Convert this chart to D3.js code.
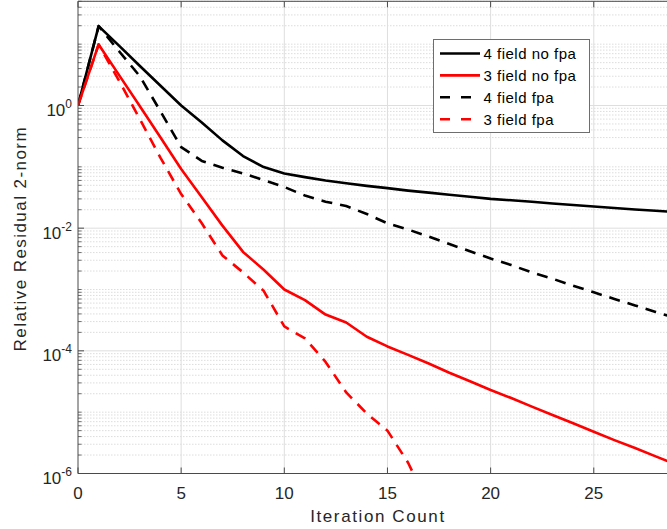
<!DOCTYPE html>
<html>
<head>
<meta charset="utf-8">
<script src="https://cdn.jsdelivr.net/npm/d3@7"></script>
<style>
  body { margin: 0; background: #fff; }
  svg { display: block; }
  text { font-family: "Liberation Sans", Arial, Helvetica, sans-serif; fill: #262626; }
</style>
</head>
<body>
<svg id="chart" width="667" height="529"></svg>
<script>
// iteration count (x axis)
const iterations = [0, 1, 2, 3, 4, 5, 6, 7, 8, 9, 10, 11, 12, 13, 14, 15, 16, 17, 18, 19, 20, 21, 22, 23, 24, 25, 26, 27, 28, 29];

// relative residual 2-norm
const fourFieldNoFpa = [1, 19.7, 9.4, 4.4, 2.1, 1.0, 0.53, 0.27, 0.15, 0.099, 0.078, 0.068, 0.060, 0.054, 0.049,
    0.045, 0.041, 0.038, 0.035, 0.0325, 0.030, 0.0285, 0.027, 0.0253, 0.0238, 0.0225, 0.0213, 0.0202, 0.0192, 0.0183];
const threeFieldNoFpa = [1, 9.9, 3.1, 0.97, 0.30, 0.092, 0.032, 0.011, 0.0041, 0.0021, 0.001, 0.00067, 0.00039, 0.00029, 0.00017,
    0.000118, 0.000086, 0.000062, 0.000044, 0.000032, 0.000023, 0.000017, 0.0000123, 0.000009, 0.0000066, 0.0000048,
    0.0000035, 0.0000026, 0.0000019, 0.0000014];
const fourFieldFpa = [1, 19.7, 7.6, 3.0, 0.8, 0.21, 0.125, 0.097, 0.078, 0.061, 0.047, 0.034, 0.027, 0.023, 0.017,
    0.012, 0.0095, 0.0073, 0.0055, 0.0042, 0.0032, 0.0025, 0.0019, 0.0015, 0.00115, 0.0009, 0.0007, 0.00055, 0.00043, 0.00034];
const threeFieldFpa = [1, 9.9, 2.5, 0.6, 0.14, 0.036, 0.012, 0.0036, 0.0019, 0.00095, 0.00025, 0.00016, 0.000066, 0.000021,
    0.0000095, 0.000005, 0.0000015, 0.0000003];

const seriesNames = ["4 field no fpa", "3 field no fpa", "4 field fpa", "3 field fpa"];
const seriesValues = [fourFieldNoFpa, threeFieldNoFpa, fourFieldFpa, threeFieldFpa];
const seriesColors = ["#000000", "#ff0000", "#000000", "#ff0000"];
const seriesDashed = [false, false, true, true];

const xTicks = [0, 5, 10, 15, 20, 25];
const yTickExponents = [0, -2, -4, -6];

const svg = d3.select("#chart");

// plot box (right side runs past the picture edge)
const plotLeft = 78, plotRight = 676.3, plotTop = 1.3, plotBottom = 473.5;

const x = d3.scaleLinear().domain([0, 29]).range([plotLeft, plotRight]);
const y = d3.scaleLog().domain([1e-6, 50]).range([plotBottom, plotTop]);

const isDecade = v => Math.abs(Math.log10(v) - Math.round(Math.log10(v))) < 1e-9;
const isMajor = v => isDecade(v) && yTickExponents.includes(Math.round(Math.log10(v)));

const allYTicks = y.ticks().filter(v => v >= 1e-6 && v <= 50);
const minorY = allYTicks.filter(v => !isMajor(v));
const majorY = allYTicks.filter(v => isMajor(v));

// grid
const grid = svg.append("g");
grid.selectAll(".minor")
    .data(minorY)
    .enter()
    .append("line")
    .attr("x1", plotLeft).attr("x2", plotRight)
    .attr("y1", d => y(d)).attr("y2", d => y(d))
    .style("stroke", "#d4d4d4")
    .style("stroke-width", 0.8)
    .style("stroke-dasharray", "1.5,1.5");

grid.selectAll(".majorY")
    .data(majorY)
    .enter()
    .append("line")
    .attr("x1", plotLeft).attr("x2", plotRight)
    .attr("y1", d => y(d)).attr("y2", d => y(d))
    .style("stroke", "#dedede")
    .style("stroke-width", 1);

grid.selectAll(".majorX")
    .data(xTicks.filter(d => d > 0))
    .enter()
    .append("line")
    .attr("x1", d => x(d)).attr("x2", d => x(d))
    .attr("y1", plotTop).attr("y2", plotBottom)
    .style("stroke", "#dedede")
    .style("stroke-width", 1);

// data lines
svg.append("clipPath").attr("id", "plotClip")
    .append("rect")
    .attr("x", plotLeft).attr("y", plotTop)
    .attr("width", plotRight - plotLeft).attr("height", plotBottom - plotTop);

const line = d3.line()
    .x((d, i) => x(iterations[i]))
    .y(d => y(d));

svg.append("g")
    .attr("clip-path", "url(#plotClip)")
    .selectAll("path")
    .data(seriesValues)
    .enter()
    .append("path")
    .attr("d", d => line(d))
    .style("fill", "none")
    .style("stroke", (d, i) => seriesColors[i])
    .style("stroke-width", 2.6)
    .style("stroke-linejoin", "round")
    .style("stroke-dasharray", (d, i) => seriesDashed[i] ? "11,8" : null);

// axes box and ticks
const axisColor = "#4a4a4a";
const axes = svg.append("g");
axes.append("line").attr("x1", plotLeft).attr("x2", plotLeft).attr("y1", plotTop).attr("y2", plotBottom)
    .style("stroke", axisColor).style("stroke-width", 1);
axes.append("line").attr("x1", plotLeft).attr("x2", plotRight).attr("y1", plotBottom).attr("y2", plotBottom)
    .style("stroke", axisColor).style("stroke-width", 1);
axes.append("line").attr("x1", plotLeft).attr("x2", plotRight).attr("y1", plotTop).attr("y2", plotTop)
    .style("stroke", axisColor).style("stroke-width", 1);

xTicks.forEach(t => {
    axes.append("line").attr("x1", x(t)).attr("x2", x(t)).attr("y1", plotBottom).attr("y2", plotBottom - 6)
        .style("stroke", axisColor).style("stroke-width", 1);
    axes.append("line").attr("x1", x(t)).attr("x2", x(t)).attr("y1", plotTop).attr("y2", plotTop + 6)
        .style("stroke", axisColor).style("stroke-width", 1);
    axes.append("text")
        .attr("x", x(t))
        .attr("y", 498.5)
        .attr("text-anchor", "middle")
        .style("font-size", "17px")
        .text(t);
});

minorY.forEach(v => {
    axes.append("line").attr("x1", plotLeft).attr("x2", plotLeft + 3.5).attr("y1", y(v)).attr("y2", y(v))
        .style("stroke", axisColor).style("stroke-width", 0.8);
});

yTickExponents.forEach(e => {
    const py = y(Math.pow(10, e));
    axes.append("line").attr("x1", plotLeft).attr("x2", plotLeft + 6).attr("y1", py).attr("y2", py)
        .style("stroke", axisColor).style("stroke-width", 1);
    const label = axes.append("text")
        .attr("x", 72)
        .attr("y", py + 10.5)
        .attr("text-anchor", "end")
        .style("font-size", "17px");
    label.append("tspan").text("10");
    label.append("tspan")
        .attr("dy", -8)
        .style("font-size", "12px")
        .text(e);
});

// axis titles
svg.append("text")
    .attr("x", (plotLeft + plotRight) / 2)
    .attr("y", 521.7)
    .attr("text-anchor", "middle")
    .attr("textLength", 134)
    .attr("lengthAdjust", "spacing")
    .style("font-size", "17px")
    .text("Iteration Count");

svg.append("text")
    .attr("transform", `translate(26, ${(plotTop + plotBottom) / 2 + 2}) rotate(-90)`)
    .attr("text-anchor", "middle")
    .attr("textLength", 224)
    .attr("lengthAdjust", "spacing")
    .style("font-size", "17px")
    .text("Relative Residual 2-norm");

// legend
const legend = svg.append("g").attr("transform", "translate(433.5, 39.5)");
legend.append("rect")
    .attr("width", 156).attr("height", 93)
    .style("fill", "#fff")
    .style("stroke", "#6e6e6e")
    .style("stroke-width", 1);

seriesNames.forEach((name, i) => {
    const ry = 14 + i * 21.9;
    legend.append("line")
        .attr("x1", 6.5).attr("x2", 46.5)
        .attr("y1", ry).attr("y2", ry)
        .style("stroke", seriesColors[i])
        .style("stroke-width", 2.6)
        .style("stroke-dasharray", seriesDashed[i] ? "10,11" : null);
    legend.append("text")
        .attr("x", 50)
        .attr("y", ry + 5.3)
        .style("font-size", "15px")
        .style("letter-spacing", "0.5px")
        .style("fill", "#000")
        .text(name);
});
</script>
</body>
</html>
